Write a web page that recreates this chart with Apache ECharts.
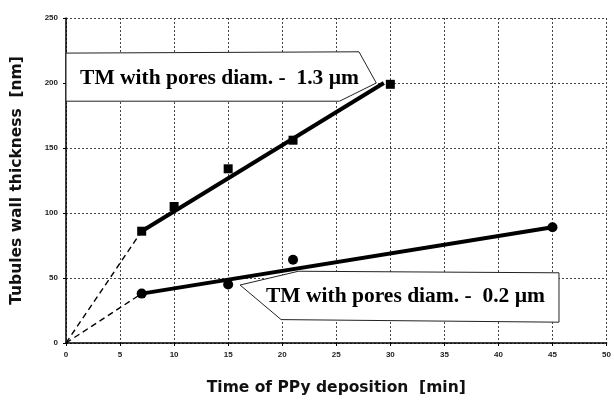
<!DOCTYPE html>
<html>
<head>
<meta charset="utf-8">
<script src="https://cdn.jsdelivr.net/npm/echarts@6/dist/echarts.min.js"></script>
<style>
html,body{margin:0;padding:0;background:#fff;}
#chart{width:614px;height:401px;}
</style>
</head>
<body>
<div id="chart"></div>
<script>
// ---- data ----
var xTicks = [0, 5, 10, 15, 20, 25, 30, 35, 40, 45, 50];
var yTicks = [0, 50, 100, 150, 200, 250];

var pts13 = [[7, 86], [10, 105], [15, 134], [21, 156], [30, 199]];   // squares, 1.3 um
var fit13 = [[7, 86], [29.4, 200]];                                 // fitted line
var dash13 = [[0, 0], [7, 86]];

var pts02 = [[7, 38], [15, 45], [21, 64], [45, 89]];                // circles, 0.2 um
var fit02 = [[7, 38], [45, 89]];
var dash02 = [[0, 0], [7, 38]];

var label13 = 'TM with pores diam. -  1.3 \u00b5m';
var label02 = 'TM with pores diam. -  0.2 \u00b5m';

// callout outlines and text anchors in data coordinates
var call13 = [[0, 223], [27.1, 224], [28.7, 200], [25.3, 186], [0, 186]];
var call02 = [[16.1, 44.6], [21.5, 55.2], [45.6, 54], [45.6, 16], [19.9, 18]];
var text13At = [14.2, 203.5];
var text02At = [31.4, 35.5];

var chart = echarts.init(document.getElementById('chart'));
var nameFont = { fontFamily: 'DejaVu Sans', fontWeight: 'bold', fontSize: 15.5, color: '#111' };
var option = {
  animation: false,
  backgroundColor: '#fff',
  grid: { left: 66, right: 3, top: 18, bottom: 58 },
  xAxis: {
    type: 'value', min: 0, max: 50, interval: 5,
    name: 'Time of PPy deposition  [min]',
    nameLocation: 'middle', nameGap: 37,
    nameTextStyle: nameFont,
    axisLine: { lineStyle: { color: '#000', width: 1.5 } },
    axisTick: { show: true, length: 3, lineStyle: { color: '#000' } },
    axisLabel: { fontFamily: 'Liberation Sans', fontWeight: 'bold', fontSize: 8, color: '#222', margin: 8,
      formatter: function (v) { return xTicks.indexOf(v) >= 0 ? String(v) : ''; } },
    splitLine: { show: true, lineStyle: { color: '#444', width: 1, type: [2, 2] } }
  },
  yAxis: {
    type: 'value', min: 0, max: 250, interval: 50,
    name: 'Tubules wall thickness  [nm]',
    nameLocation: 'middle', nameGap: 41,
    nameTextStyle: nameFont,
    axisLine: { show: true, lineStyle: { color: '#000', width: 1.5 } },
    axisTick: { show: true, length: 3, lineStyle: { color: '#000' } },
    axisLabel: { fontFamily: 'Liberation Sans', fontWeight: 'bold', fontSize: 8, color: '#222', margin: 8,
      formatter: function (v) { return yTicks.indexOf(v) >= 0 ? String(v) : ''; } },
    splitLine: { show: true, lineStyle: { color: '#444', width: 1, type: [2, 2] } }
  },
  series: [
    { type: 'line', data: dash13, symbol: 'none', z: 3,
      lineStyle: { color: '#000', width: 1.4, type: [6, 4] } },
    { type: 'line', data: dash02, symbol: 'none', z: 3,
      lineStyle: { color: '#000', width: 1.4, type: [6, 4] } },
    { type: 'line', data: fit13, symbol: 'none', z: 4,
      lineStyle: { color: '#000', width: 4 } },
    { type: 'line', data: fit02, symbol: 'none', z: 4,
      lineStyle: { color: '#000', width: 4 } },
    { type: 'scatter', data: pts13, symbol: 'rect', symbolSize: 9, z: 5,
      itemStyle: { color: '#000', opacity: 1 } },
    { type: 'scatter', data: pts02, symbol: 'circle', symbolSize: 10, z: 5,
      itemStyle: { color: '#000', opacity: 1 } }
  ]
};
chart.setOption(option);

function toPx(list) {
  return list.map(function (p) { return chart.convertToPixel({ gridIndex: 0 }, p); });
}
var p13 = toPx(call13);
var p02 = toPx(call02);
var c13 = chart.convertToPixel({ gridIndex: 0 }, text13At);
var c02 = chart.convertToPixel({ gridIndex: 0 }, text02At);
var calloutFont = 'bold 21.5px "Liberation Serif"';

chart.setOption({
  graphic: [
    { type: 'polygon', z: 1, shape: { points: p13 },
      style: { fill: '#fff', stroke: '#222', lineWidth: 1 } },
    { type: 'polygon', z: 1, shape: { points: p02 },
      style: { fill: '#fff', stroke: '#222', lineWidth: 1 } },
    { type: 'text', z: 6, x: c13[0], y: c13[1],
      style: { text: label13, fill: '#000', font: calloutFont, align: 'center', verticalAlign: 'middle' } },
    { type: 'text', z: 6, x: c02[0], y: c02[1],
      style: { text: label02, fill: '#000', font: calloutFont, align: 'center', verticalAlign: 'middle' } }
  ]
});
</script>
</body>
</html>
